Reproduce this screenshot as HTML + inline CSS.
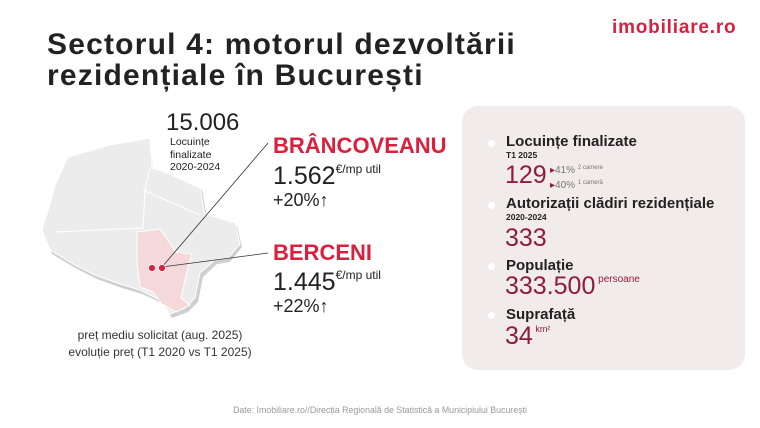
<!DOCTYPE html>
<html><head><meta charset="utf-8"><style>
body{margin:0;width:760px;height:428px;background:#fff;font-family:"Liberation Sans",sans-serif;position:relative;overflow:hidden;color:#222}
div{position:absolute;white-space:nowrap}
.b{font-weight:bold}
.red{color:#d9213f}
.cr{color:#8e1c3c}
.dot{width:7px;height:7px;border-radius:50%;background:#fff}
</style></head><body>
<div class="b" style="left:612px;top:17px;font-size:19px;color:#d9213f;letter-spacing:0.8px">imobiliare.ro</div>
<div class="b" style="left:47px;top:29px;font-size:30px;line-height:31px;color:#222;letter-spacing:1.2px">Sectorul 4: motorul dezvoltării<br>rezidențiale în București</div>

<svg style="position:absolute;left:0;top:0" width="460" height="380">
<polygon points="57,190 70,160 112,148 150,140 153,170 165,174 202,190 207,217 237,226 242,247 230,262 217,264 203,277 198,302 188,312 172,318 162,303 142,294 122,288 97,279 77,269 52,254 44,234 52,208" fill="#cfcfcf"/>
<polygon points="55,185 68,157 110,145 150,138 152,168 165,172 200,188 205,214 235,223 240,244 228,258 215,260 200,273 195,298 185,308 170,314 160,300 140,290 120,284 95,275 75,265 50,250 42,230 50,204" fill="#ececec" stroke="#fff" stroke-width="1"/>
<polyline points="150,168 145,190 143,228 55,232" fill="none" stroke="#fff" stroke-width="1"/>
<polyline points="143,190 200,215" fill="none" stroke="#fff" stroke-width="1"/>
<polygon points="137,232 160,229 176,252 192,254 186,275 181,298 190,305 176,312 162,304 153,292 140,287 137,262" fill="#f5d9da" stroke="#fff" stroke-width="1"/>
<line x1="162" y1="267" x2="268" y2="143" stroke="#333" stroke-width="0.8"/>
<line x1="162" y1="267" x2="268" y2="253" stroke="#333" stroke-width="0.8"/>
<circle cx="152" cy="268" r="3.5" fill="#d9213f" stroke="#fff" stroke-width="0.8"/>
<circle cx="162" cy="268" r="3.5" fill="#d9213f" stroke="#fff" stroke-width="0.8"/>
</svg>

<div style="left:166px;top:109px;font-size:24px">15.006</div>
<div style="left:170px;top:136px;font-size:10.5px;line-height:12.5px">Locuințe<br>finalizate<br>2020-2024</div>
<div class="b red" style="left:273px;top:133px;font-size:22px">BRÂNCOVEANU</div>
<div style="left:273px;top:162px;font-size:25px">1.562<sup style="font-size:12px;vertical-align:11px">€/mp util</sup></div>
<div style="left:273px;top:190px;font-size:18px">+20%↑</div>
<div class="b red" style="left:273px;top:240px;font-size:22px">BERCENI</div>
<div style="left:273px;top:268px;font-size:25px">1.445<sup style="font-size:12px;vertical-align:11px">€/mp util</sup></div>
<div style="left:273px;top:296px;font-size:18px">+22%↑</div>
<div style="left:60px;top:327px;width:200px;text-align:center;font-size:12px;line-height:17px;color:#333">preț mediu solicitat (aug. 2025)<br>evoluție preț (T1 2020 vs T1 2025)</div>

<div style="left:462px;top:106px;width:283px;height:264px;border-radius:16px;background:#f2ebeb"></div>
<div class="dot" style="left:488px;top:140px"></div>
<div class="b" style="left:506px;top:133px;font-size:15px">Locuințe finalizate</div>
<div class="b" style="left:506px;top:150px;font-size:8.5px">T1 2025</div>
<div class="cr" style="left:505px;top:161px;font-size:25px">129</div>
<div style="left:550px;top:162px;font-size:10px;color:#777;line-height:13px"><span class="cr">▸</span>41% <span style="font-size:6px;vertical-align:4px">2 camere</span><br><span class="cr">▸</span>40% <span style="font-size:6px;vertical-align:4px">1 cameră</span></div>
<div class="dot" style="left:488px;top:202px"></div>
<div class="b" style="left:506px;top:195px;font-size:15px">Autorizații clădiri rezidențiale</div>
<div class="b" style="left:506px;top:212px;font-size:8.5px">2020-2024</div>
<div class="cr" style="left:505px;top:224px;font-size:25px">333</div>
<div class="dot" style="left:488px;top:263px"></div>
<div class="b" style="left:506px;top:257px;font-size:15px">Populație</div>
<div class="cr" style="left:505px;top:272px;font-size:25px">333.500<sup style="font-size:10px;vertical-align:12px"> persoane</sup></div>
<div class="dot" style="left:488px;top:312px"></div>
<div class="b" style="left:506px;top:306px;font-size:15px">Suprafață</div>
<div class="cr" style="left:505px;top:322px;font-size:25px">34<sup style="font-size:9px;vertical-align:12px"> km²</sup></div>

<div style="left:0;top:405px;width:760px;text-align:center;font-size:8.8px;color:#999">Date: Imobiliare.ro//Direcția Regională de Statistică a Municipiului București</div>
</body></html>
